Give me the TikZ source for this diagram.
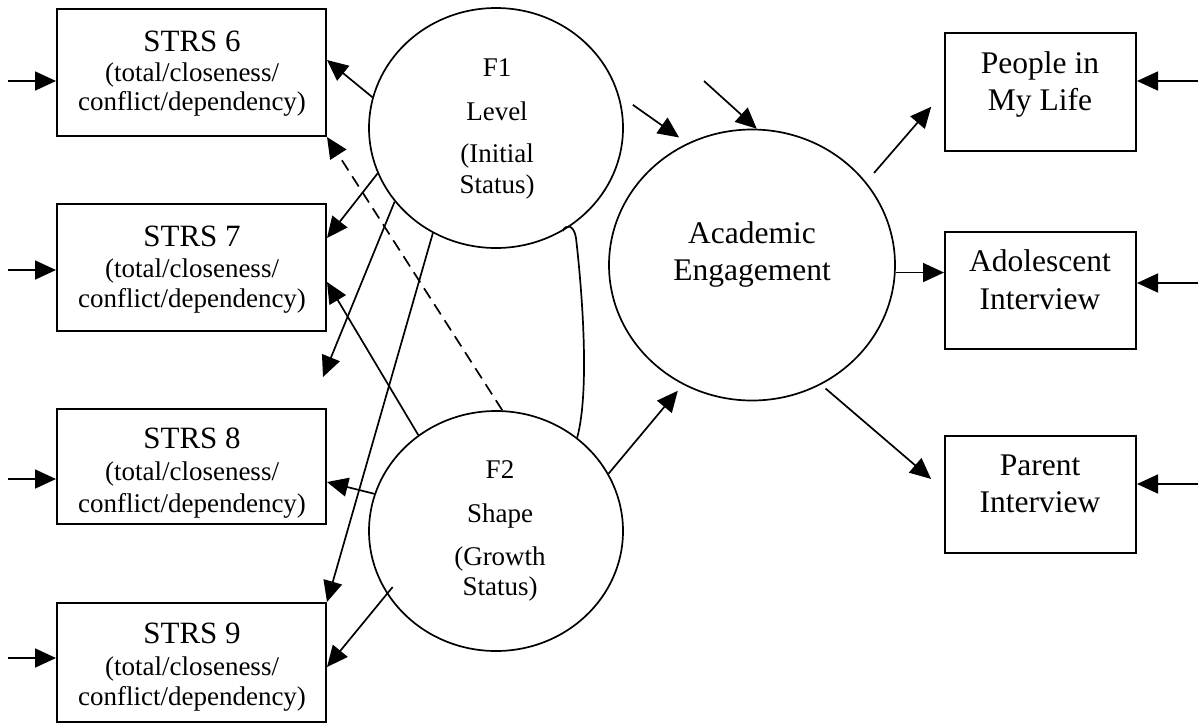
\documentclass[tikz,border=0pt]{standalone}
\usepackage{fontspec}
\setmainfont{Liberation Serif}
\usetikzlibrary{arrows.meta,shapes.geometric,calc}
\begin{document}
\begin{tikzpicture}[x=1pt,y=-1pt,
  box/.style={draw, line width=2pt, rectangle, inner sep=0pt},
  ell/.style={draw, line width=1.7pt, ellipse, inner sep=0pt},
  titletxt/.style={anchor=base, inner sep=0pt, font=\fontsize{31}{36}\selectfont},
  bigtxt/.style={anchor=base, inner sep=0pt, font=\fontsize{31.5}{36}\selectfont},
  smalltxt/.style={anchor=base, inner sep=0pt, font=\fontsize{27}{30}\selectfont},
  arr/.style={line width=1.7pt, -{Triangle[length=21pt,width=19pt]}},
  link/.style={line width=1.7pt},
  dashline/.style={dash pattern=on 12pt off 7pt},
]
\useasboundingbox (0,0) rectangle (1198,724);

% left boxes
\node[box, minimum width=269pt, minimum height=127pt] (s6) at (191.5,72.5) {};
\node[box, minimum width=269pt, minimum height=127pt] (s7) at (191.5,267.5) {};
\node[box, minimum width=269pt, minimum height=115pt] (s8) at (191.5,466.5) {};
\node[box, minimum width=269pt, minimum height=119pt] (s9) at (191.5,662.5) {};

\node[titletxt] (t6a) at (192,51) {STRS 6};
\node[smalltxt] (t6b) at (192,81) {(total/closeness/};
\node[smalltxt] (t6c) at (192,110) {conflict/dependency)};
\node[titletxt] (t7a) at (192,246) {STRS 7};
\node[smalltxt] (t7b) at (192,277) {(total/closeness/};
\node[smalltxt] (t7c) at (192,307) {conflict/dependency)};
\node[titletxt] (t8a) at (192,448) {STRS 8};
\node[smalltxt] (t8b) at (192,480) {(total/closeness/};
\node[smalltxt] (t8c) at (192,512) {conflict/dependency)};
\node[titletxt] (t9a) at (192,643) {STRS 9};
\node[smalltxt] (t9b) at (192,675) {(total/closeness/};
\node[smalltxt] (t9c) at (192,705) {conflict/dependency)};

% latent factors
\node[ell, minimum width=254pt, minimum height=240pt] (F1) at (496,128) {};
\node[ell, minimum width=254pt, minimum height=240pt] (F2) at (496,531) {};
\node[ell, minimum width=286pt, minimum height=271pt] (AE) at (752,265) {};

\node[smalltxt] (f1a) at (497,76) {F1};
\node[smalltxt] (f1b) at (497,120) {Level};
\node[smalltxt] (f1c) at (497,162) {(Initial};
\node[smalltxt] (f1d) at (497,193) {Status)};
\node[smalltxt] (f2a) at (500,478) {F2};
\node[smalltxt] (f2b) at (500,522) {Shape};
\node[smalltxt] (f2c) at (500,565) {(Growth};
\node[smalltxt] (f2d) at (500,595) {Status)};
\node[bigtxt] (aea) at (752,243) {Academic};
\node[bigtxt] (aeb) at (752,280) {Engagement};

% right boxes
\node[box, minimum width=191pt, minimum height=118pt] (P) at (1040.5,92) {};
\node[box, minimum width=191pt, minimum height=117pt] (A) at (1040.5,290.5) {};
\node[box, minimum width=191pt, minimum height=117pt] (Pa) at (1040.5,494.5) {};
\node[bigtxt] (pa1) at (1040,73) {People in};
\node[bigtxt] (pa2) at (1040,110) {My Life};
\node[bigtxt] (ad1) at (1040,271) {Adolescent};
\node[bigtxt] (ad2) at (1040,309) {Interview};
\node[bigtxt] (pr1) at (1040,475) {Parent};
\node[bigtxt] (pr2) at (1040,512) {Interview};

% free ends
\coordinate (i6) at (8,81);
\coordinate (i7) at (8,270);
\coordinate (i8) at (8,479);
\coordinate (i9) at (8,658);
\coordinate (r1) at (1198,81);
\coordinate (r2) at (1198,283);
\coordinate (r3) at (1198,484);
\coordinate (f1free) at (323,377);
\coordinate (dAE) at (704,81);

% input arrows
\draw[arr] (i6) -- (i6 -| s6.west);
\draw[arr] (i7) -- (i7 -| s7.west);
\draw[arr] (i8) -- (i8 -| s8.west);
\draw[arr] (i9) -- (i9 -| s9.west);
\draw[arr] (r1) -- (r1 -| P.east);
\draw[arr] (r2) -- (r2 -| A.east);
\draw[arr] (r3) -- (r3 -| Pa.east);

% factor loadings
\draw[arr] (F1.166.5) -- ([yshift=12.5pt]s6.east);
\draw[arr] (F1.201.3) -- ([yshift=29.5pt]s7.east);
\draw[arr] (F1.216.3) -- (f1free);
\draw[arr] (F1.239) -- (s9.north east);
\draw[arr, dashline] (F2.87) -- (s6.south east);
\draw[arr] (F2.129.7) -- ([yshift=-14.5pt]s7.east);
\draw[arr] (F2.163) -- ([yshift=-15.5pt]s8.east);
\draw[arr, shorten <=-9pt] (F2.210.8) -- ([yshift=-4.5pt]s9.east);

% covariance
\draw[link] (F1.-57) .. controls (565,224) and (574,224) .. (576,238)
  .. controls (582,290) and (590,390) .. (F2.49);

% structural paths
\draw[arr, shorten <=17pt, shorten >=10pt] (F1.15.6) -- (AE.118.1);
\draw[arr] (dAE) -- (AE.88);
\draw[arr, shorten >=8pt] (F2.27) -- (AE.240.2);
\draw[arr, shorten <=12pt, shorten >=19.5pt] (AE.36.3) -- (P.west);
\draw[arr] (AE.-3.2) -- (AE.-3.2 -| A.west);
\draw[arr, shorten <=6pt, shorten >=17pt] (AE.-60.1) -- ([yshift=4.5pt]Pa.west);
\end{tikzpicture}
\end{document}
